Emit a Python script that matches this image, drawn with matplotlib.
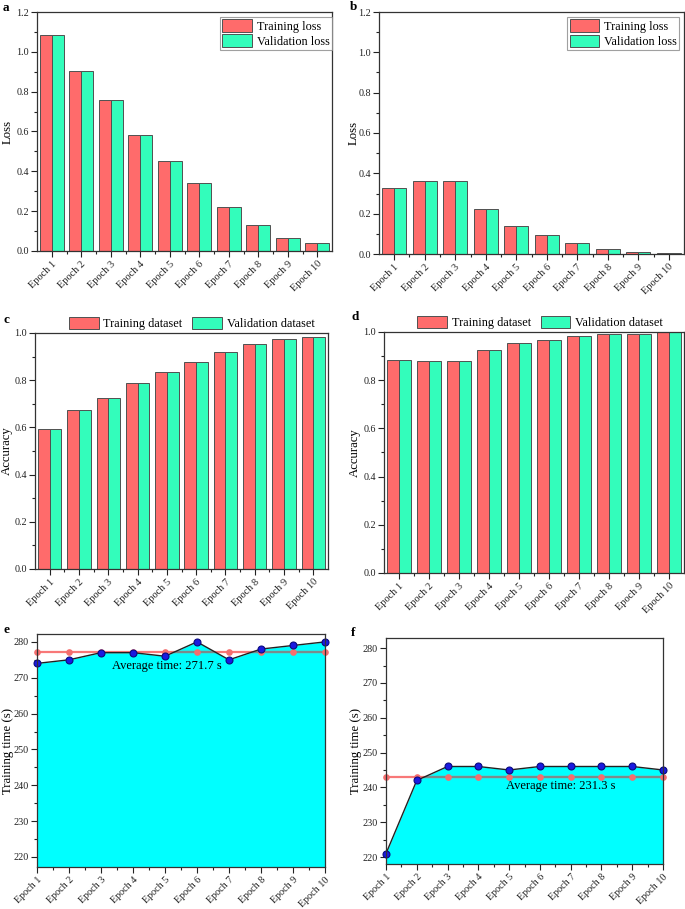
import matplotlib
matplotlib.use("Agg")
import matplotlib.pyplot as plt
import matplotlib.transforms as mtrans
import numpy as np
from matplotlib.ticker import MultipleLocator

plt.rcParams['font.family'] = ['Liberation Serif', 'DejaVu Serif']
plt.rcParams['axes.linewidth'] = 0.9

epochs = ["Epoch 1", "Epoch 2", "Epoch 3", "Epoch 4", "Epoch 5",
          "Epoch 6", "Epoch 7", "Epoch 8", "Epoch 9", "Epoch 10"]

# Panel a: loss
a_train = [1.083, 0.905, 0.757, 0.581, 0.453, 0.339, 0.222, 0.129, 0.064, 0.042]
a_val = [1.083, 0.905, 0.757, 0.581, 0.453, 0.339, 0.222, 0.129, 0.064, 0.042]
# Panel b: loss
b_train = [0.329, 0.362, 0.361, 0.222, 0.141, 0.096, 0.055, 0.025, 0.008, 0.005]
b_val = [0.329, 0.362, 0.361, 0.222, 0.141, 0.096, 0.055, 0.025, 0.008, 0.005]
# Panel c: accuracy
c_train = [0.595, 0.672, 0.725, 0.788, 0.836, 0.877, 0.919, 0.953, 0.976, 0.984]
c_val = [0.595, 0.672, 0.725, 0.788, 0.836, 0.877, 0.919, 0.953, 0.976, 0.984]
# Panel d: accuracy
d_train = [0.885, 0.878, 0.881, 0.925, 0.954, 0.967, 0.982, 0.992, 0.992, 0.999]
d_val = [0.885, 0.878, 0.881, 0.925, 0.954, 0.967, 0.982, 0.992, 0.992, 0.999]
# Panel e/f: training time
e_time = [274, 275, 277, 277, 276, 280, 275, 278, 279, 280]
e_avg = 277.1
e_avg_label = "Average time: 271.7 s"
f_time = [221, 242, 246, 246, 245, 246, 246, 246, 246, 245]
f_avg = 242.9
f_avg_label = "Average time: 231.3 s"

RED = '#FF6B6B'
GREEN = '#33FDBB'
EDGE = '#505050'

W, H = 685, 909
fig = plt.figure(figsize=(W / 100, H / 100), dpi=100)


def rect(l, r, t, b):
    return [l / W, 1 - b / H, (r - l) / W, (b - t) / H]


def style_common(ax, ylabel, label_px):
    ax.tick_params(axis='both', which='both', direction='out', top=False, right=False,
                   labelsize=7.3, colors='#222222', width=0.8, pad=1.5)
    ax.tick_params(axis='both', which='major', length=4.3)
    ax.tick_params(axis='both', which='minor', length=2.3)
    for s in ax.spines.values():
        s.set_color('#333333')
    ax.set_ylabel(ylabel, fontsize=9.2, va='center')
    tr = mtrans.blended_transform_factory(fig.transFigure, ax.transAxes)
    ax.yaxis.set_label_coords(label_px / W, 0.5, transform=tr)


def bar_panel(ax, tr, va, labels, ylim, ymaj, ylabel, label_px):
    x = np.arange(1, len(tr) + 1)
    w = 0.4
    ax.bar(x - w / 2, tr, w, color=RED, edgecolor=EDGE, linewidth=0.7, label=labels[0])
    ax.bar(x + w / 2, va, w, color=GREEN, edgecolor=EDGE, linewidth=0.7, label=labels[1])
    ax.set_xlim(0.5, len(x) + 0.5)
    ax.set_ylim(*ylim)
    ax.yaxis.set_major_locator(MultipleLocator(ymaj))
    ax.yaxis.set_minor_locator(MultipleLocator(ymaj / 2))
    ax.yaxis.set_major_formatter(matplotlib.ticker.FormatStrFormatter('%.1f'))
    ax.set_xticks(x)
    ax.set_xticks(x[:-1] + 0.5, minor=True)
    style_common(ax, ylabel, label_px)
    ax.set_xticklabels(epochs, rotation=45, ha='right', va='top', rotation_mode='anchor', fontsize=7.5)


def boxed_legend(ax, anchor):
    leg = ax.legend(loc='upper right', bbox_to_anchor=anchor, fontsize=8.8, frameon=True,
                    fancybox=False, borderaxespad=0, handlelength=2.4, handleheight=1.2,
                    labelspacing=0.15, handletextpad=0.4, borderpad=0.2)
    leg.get_frame().set_edgecolor('#888888')
    leg.get_frame().set_linewidth(0.8)


# a
ax_a = fig.add_axes(rect(37, 332, 12, 251))
bar_panel(ax_a, a_train, a_val, ["Training loss", "Validation loss"], (0, 1.2), 0.2, "Loss", 8)
boxed_legend(ax_a, (1.0, 0.98))

# b
ax_b = fig.add_axes(rect(379, 684, 12, 254))
bar_panel(ax_b, b_train, b_val, ["Training loss", "Validation loss"], (0, 1.2), 0.2, "Loss", 354)
boxed_legend(ax_b, (0.985, 0.98))

# c
ax_c = fig.add_axes(rect(35, 328, 333, 569))
bar_panel(ax_c, c_train, c_val, ["Training dataset", "Validation dataset"], (0, 1.0), 0.2, "Accuracy", 7)
ax_c.legend(loc='center', bbox_to_anchor=(0.535, 1.04), ncol=2, fontsize=8.8, frameon=False,
            handlelength=2.4, handleheight=1.2, handletextpad=0.4, columnspacing=0.8, borderaxespad=0)

# d
ax_d = fig.add_axes(rect(384, 684, 332, 573))
bar_panel(ax_d, d_train, d_val, ["Training dataset", "Validation dataset"], (0, 1.0), 0.2, "Accuracy", 355)
ax_d.legend(loc='center', bbox_to_anchor=(0.52, 1.04), ncol=2, fontsize=8.8, frameon=False,
            handlelength=2.4, handleheight=1.2, handletextpad=0.4, columnspacing=0.8, borderaxespad=0)


def time_panel(ax, t, avg, label, ylim, text_xy, label_px):
    x = np.arange(1, len(t) + 1)
    ax.set_xlim(1, len(t))
    ax.set_ylim(*ylim)
    poly = ax.fill_between(x, t, ylim[0], color='#00FFFF', linewidth=0, zorder=1)
    avg_y = [avg] * len(x)
    ax.plot(x, avg_y, color='#F87878', linewidth=1.6, zorder=2)
    gl, = ax.plot(x, avg_y, color='#7A8C8C', linewidth=1.6, zorder=2.5)
    gl.set_clip_path(poly.get_paths()[0], ax.transData)
    ax.plot(x, avg_y, linestyle='none', marker='o', markersize=4.8, color='#F46E6E',
            markeredgewidth=0, zorder=3, clip_on=False)
    ax.plot(x, t, color='#222222', linewidth=1.0, marker='o', markersize=5,
            markerfacecolor='#1A1AE0', markeredgecolor='#0A0A80', markeredgewidth=0.8,
            zorder=4, clip_on=False)
    ax.text(text_xy[0], text_xy[1], label, fontsize=9, ha='left', va='center', zorder=5)
    ax.yaxis.set_major_locator(MultipleLocator(10))
    ax.yaxis.set_minor_locator(MultipleLocator(5))
    ax.set_xticks(x)
    ax.set_xticks(x[:-1] + 0.5, minor=True)
    style_common(ax, "Training time (s)", label_px)
    ax.set_xticklabels(epochs, rotation=45, ha='right', va='top', rotation_mode='anchor', fontsize=7.3)
    for s in ax.spines.values():
        s.set_zorder(6)


ax_e = fig.add_axes(rect(37, 325, 634, 867))
time_panel(ax_e, e_time, e_avg, e_avg_label, (217.2, 282.2), (3.35, 273.2), 8)

ax_f = fig.add_axes(rect(386, 663, 638, 864))
time_panel(ax_f, f_time, f_avg, f_avg_label, (218.0, 282.9), (4.9, 240.3), 356)

# panel letters
for lab, (px, py) in zip("abcdef", [(3, 8), (350, 7), (3, 320), (352, 317), (3, 630), (351, 633)]):
    fig.text(px / W, 1 - py / H, lab, fontsize=9.5, fontweight='bold', ha='left', va='center')

fig.savefig("out.png", dpi=100)
